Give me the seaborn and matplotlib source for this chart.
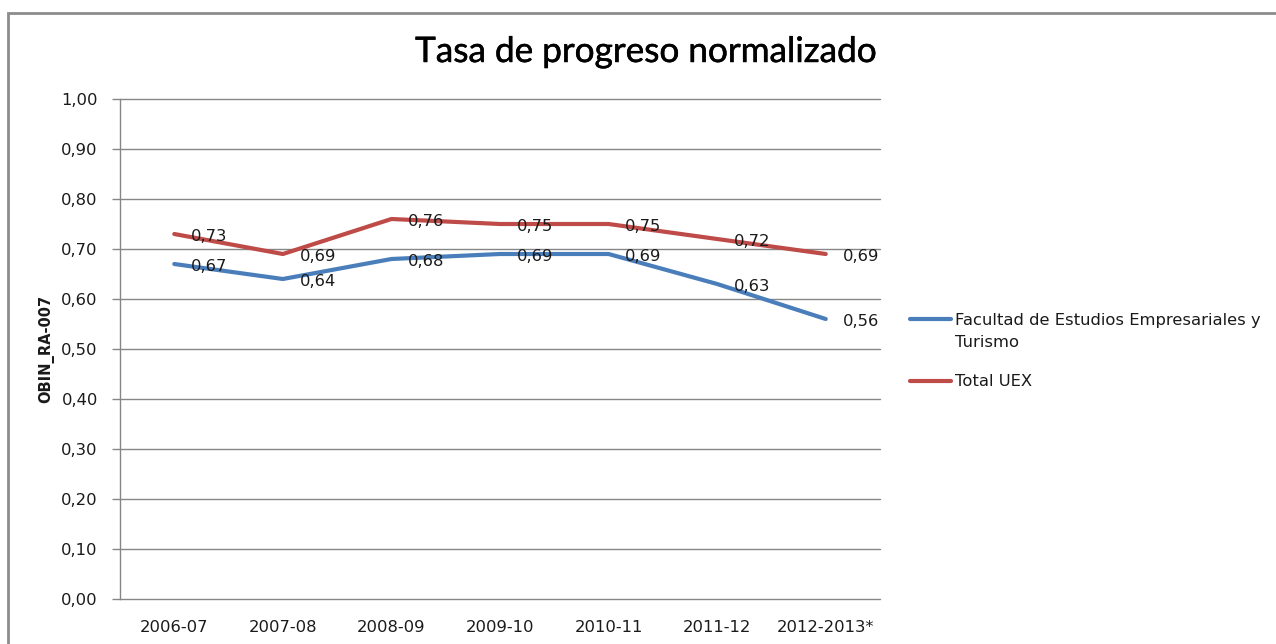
import matplotlib
matplotlib.use("Agg")
import matplotlib.pyplot as plt
import matplotlib.patheffects as pe
from matplotlib.patches import Rectangle
from matplotlib.lines import Line2D
from matplotlib.legend_handler import HandlerLine2D
import numpy as np
import pandas as pd
import seaborn as sns

# Academic years and normalised progress rate per series
cursos = ["2006-07", "2007-08", "2008-09", "2009-10", "2010-11", "2011-12", "2012-2013*"]
facultad = [0.67, 0.64, 0.68, 0.69, 0.69, 0.63, 0.56]
total_uex = [0.73, 0.69, 0.76, 0.75, 0.75, 0.72, 0.69]
serie_facultad = "Facultad de Estudios Empresariales y Turismo"
serie_total = "Total UEX"
y_ticks = [0.0, 0.1, 0.2, 0.3, 0.4, 0.5, 0.6, 0.7, 0.8, 0.9, 1.0]

azul = "#4A7EBB"
rojo = "#BE4B48"
gris = "#868686"
texto = "#1a1a1a"
fs = 11.8

df = pd.DataFrame({
    "curso": cursos * 2,
    "tasa": facultad + total_uex,
    "serie": [serie_facultad] * len(cursos) + [serie_total] * len(cursos),
})

sns.set_style("white")
plt.rcParams["font.family"] = ["DejaVu Sans"]

fig = plt.figure(figsize=(12.76, 6.44), dpi=100)
ax = fig.add_axes([120 / 1276, 1 - 599 / 644, 760 / 1276, 500 / 644])

sns.lineplot(data=df, x="curso", y="tasa", hue="serie",
             palette={serie_facultad: azul, serie_total: rojo},
             linewidth=3, sort=False, legend=False, ax=ax)

fmt = lambda v: f"{v:.2f}".replace(".", ",")
for valores in (facultad, total_uex):
    for i, v in enumerate(valores):
        ax.annotate(fmt(v), (i, v), xytext=(12, -2), textcoords="offset points",
                    va="center", ha="left", fontsize=fs, color=texto)

ax.set_xlim(-0.5, len(cursos) - 0.5)
ax.set_ylim(0, 1)
ax.set_yticks(y_ticks)
ax.set_yticklabels([fmt(t) for t in y_ticks], fontsize=fs, color=texto)
ax.set_xticks(range(len(cursos)))
ax.set_xticklabels(cursos, fontsize=fs, color=texto)
ax.tick_params(axis="y", length=6, width=1, color=gris, pad=10, direction="out", left=True)
ax.tick_params(axis="x", length=0, pad=15)
ax.grid(axis="y", color=gris, linewidth=1)
for g in ax.get_ygridlines():
    g.set_clip_on(False)
ax.set_axisbelow(True)
for lado in ("top", "right", "bottom"):
    ax.spines[lado].set_visible(False)
ax.spines["left"].set_color(gris)
ax.spines["left"].set_linewidth(1)
ax.set_xlabel("")
ax.set_ylabel("OBIN_RA-007", fontsize=10.5, fontweight="bold", color=texto, labelpad=5)

fig.text(646 / 1276, 1 - 52 / 644, "Tasa de progreso normalizado", ha="center", va="center",
         fontsize=25.3, family="Lato", color="#000000",
         path_effects=[pe.withStroke(linewidth=0.35, foreground="#000000")])


class LineaSuperior(HandlerLine2D):
    """Legend line aligned with the first text line of a wrapped label."""

    def __init__(self, dy=0.0, **kw):
        super().__init__(**kw)
        self.dy = dy

    def create_artists(self, legend, orig_handle, xdescent, ydescent, width, height,
                       fontsize, trans):
        arts = super().create_artists(legend, orig_handle, xdescent, ydescent, width,
                                      height, fontsize, trans)
        for a in arts:
            a.set_ydata(np.asarray(a.get_ydata(), dtype=float) + self.dy)
        return arts


h_fac = Line2D([], [], color=azul, linewidth=3)
h_tot = Line2D([], [], color=rojo, linewidth=3)
labels = ["Facultad de Estudios Empresariales y\nTurismo", serie_total]
leg = fig.legend([h_fac, h_tot], labels, loc="upper left",
                 bbox_to_anchor=(903 / 1276, 1 - 306 / 644),
                 frameon=False, fontsize=fs, handlelength=2.5, handletextpad=0.3,
                 labelspacing=1.5, borderaxespad=0,
                 handler_map={h_fac: LineaSuperior(dy=9.0)})
for t in leg.get_texts():
    t.set_color(texto)
    t.set_linespacing(1.6)

# Outer chart frame
fig.patches.append(Rectangle((8 / 1276, -0.1), 1.2, 1 - 13 / 644 + 0.1, transform=fig.transFigure,
                             fill=False, edgecolor="#8c8c8c", linewidth=2))

fig.savefig("out.png", dpi=100)
